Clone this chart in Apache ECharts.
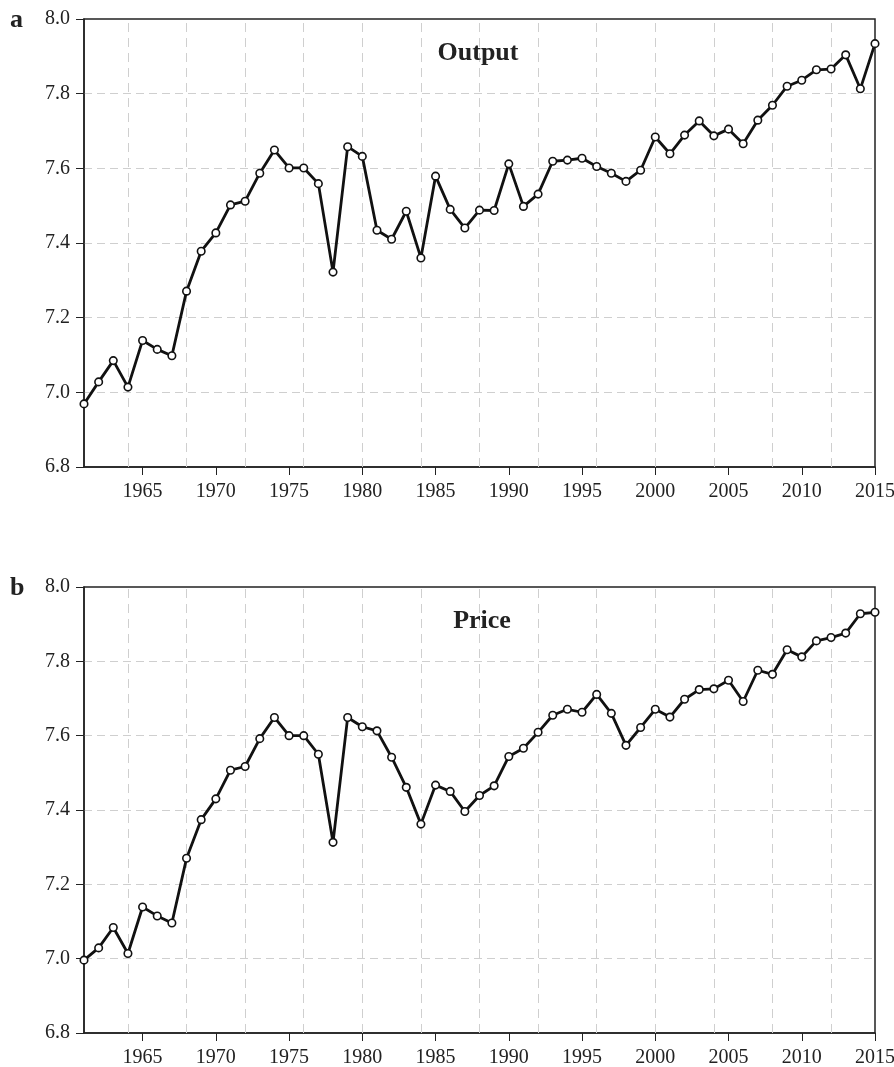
<!DOCTYPE html>
<html>
<head>
<meta charset="utf-8">
<script src="https://cdn.jsdelivr.net/npm/echarts@6/dist/echarts.min.js"></script>
<style>
  html, body { margin: 0; padding: 0; background: #fff; }
  #chart { width: 894px; height: 1067px; }
</style>
</head>
<body>
<div id="chart"></div>
<script>
// years 1961..2015
const years = [];
for (let y = 1961; y <= 2015; y++) years.push(y);

// panel a: Output
const outputValues = [
  6.969, 7.028, 7.085, 7.014, 7.139, 7.115, 7.098, 7.271, 7.378, 7.427,
  7.502, 7.512, 7.587, 7.649, 7.601, 7.601, 7.559, 7.322, 7.658, 7.632,
  7.434, 7.410, 7.485, 7.360, 7.579, 7.490, 7.440, 7.488, 7.487, 7.612,
  7.498, 7.531, 7.619, 7.622, 7.627, 7.605, 7.587, 7.565, 7.595, 7.684,
  7.639, 7.689, 7.727, 7.687, 7.705, 7.666, 7.729, 7.769, 7.820, 7.836,
  7.864, 7.866, 7.904, 7.813, 7.934
];

// panel b: Price
const priceValues = [
  6.996, 7.029, 7.084, 7.014, 7.139, 7.115, 7.096, 7.270, 7.374, 7.430,
  7.507, 7.517, 7.592, 7.649, 7.600, 7.600, 7.550, 7.313, 7.649, 7.624,
  7.613, 7.542, 7.461, 7.362, 7.467, 7.450, 7.396, 7.439, 7.465, 7.544,
  7.566, 7.609, 7.655, 7.671, 7.663, 7.711, 7.660, 7.574, 7.622, 7.671,
  7.650, 7.698, 7.724, 7.726, 7.749, 7.692, 7.776, 7.765, 7.831, 7.812,
  7.855, 7.864, 7.876, 7.928, 7.932
];

const xTickYears = [1965, 1970, 1975, 1980, 1985, 1990, 1995, 2000, 2005, 2010, 2015];
const xGridYears = [1964, 1968, 1972, 1976, 1980, 1984, 1988, 1992, 1996, 2000, 2004, 2008, 2012];

const serif = 'Liberation Serif';
const chart = echarts.init(document.getElementById('chart'));

function xAxisFor(gridIndex) {
  return {
    type: 'value',
    gridIndex: gridIndex,
    min: 1961,
    max: 2015,
    axisLine: { show: true, onZero: false, lineStyle: { color: '#222', width: 1.5 } },
    axisTick: { show: true, length: 8, customValues: xTickYears, lineStyle: { color: '#222', width: 1 } },
    axisLabel: {
      customValues: xTickYears, margin: 15, color: '#222', fontFamily: serif, fontSize: 20,
      formatter: v => String(v)
    },
    splitLine: { show: false }
  };
}

function yAxisFor(gridIndex) {
  return {
    type: 'value',
    gridIndex: gridIndex,
    min: 6.8,
    max: 8.0,
    interval: 0.2,
    axisLine: { show: true, lineStyle: { color: '#222', width: 1.5 } },
    axisTick: { show: true, length: 8, lineStyle: { color: '#222', width: 1 } },
    axisLabel: {
      margin: 14, color: '#222', fontFamily: serif, fontSize: 20,
      formatter: v => v.toFixed(1)
    },
    splitLine: {
      show: true, showMinLine: false, showMaxLine: false,
      lineStyle: { color: '#cfcfcf', width: 1, type: [8, 5] }
    }
  };
}

function lineSeries(name, values, idx) {
  return {
    name: name,
    type: 'line',
    xAxisIndex: idx,
    yAxisIndex: idx,
    data: years.map((y, i) => [y, values[i]]),
    symbol: 'circle',
    symbolSize: 7.5,
    showAllSymbol: true,
    lineStyle: { color: '#111', width: 2.8 },
    itemStyle: { color: '#fff', borderColor: '#111', borderWidth: 1.6 },
    z: 5
  };
}

function gridLineSeries(idx) {
  return {
    type: 'line',
    xAxisIndex: idx,
    yAxisIndex: idx,
    data: [],
    silent: true,
    z: 1,
    markLine: {
      silent: true,
      symbol: 'none',
      label: { show: false },
      animation: false,
      lineStyle: { color: '#cfcfcf', width: 1, type: [9, 6] },
      data: xGridYears.map(y => ({ xAxis: y }))
    }
  };
}

chart.setOption({
  animation: false,
  backgroundColor: '#fff',
  title: [
    { text: 'Output', left: 473, top: 35, textAlign: 'center',
      textStyle: { fontFamily: serif, fontWeight: 'bold', fontSize: 26, color: '#222' } },
    { text: 'Price', left: 477, top: 603, textAlign: 'center',
      textStyle: { fontFamily: serif, fontWeight: 'bold', fontSize: 26, color: '#222' } },
    { text: 'a', left: 5, top: 2, textAlign: 'left',
      textStyle: { fontFamily: serif, fontWeight: 'bold', fontSize: 26, color: '#222' } },
    { text: 'b', left: 5, top: 570, textAlign: 'left',
      textStyle: { fontFamily: serif, fontWeight: 'bold', fontSize: 26, color: '#222' } }
  ],
  grid: [
    { left: 84, right: 19, top: 19, height: 448, show: true, outerBoundsMode: 'none',
      borderColor: '#222', borderWidth: 1.5, backgroundColor: 'transparent' },
    { left: 84, right: 19, top: 587, height: 446, show: true, outerBoundsMode: 'none',
      borderColor: '#222', borderWidth: 1.5, backgroundColor: 'transparent' }
  ],
  xAxis: [xAxisFor(0), xAxisFor(1)],
  yAxis: [yAxisFor(0), yAxisFor(1)],
  series: [
    gridLineSeries(0),
    gridLineSeries(1),
    lineSeries('Output', outputValues, 0),
    lineSeries('Price', priceValues, 1)
  ]
});
</script>
</body>
</html>
